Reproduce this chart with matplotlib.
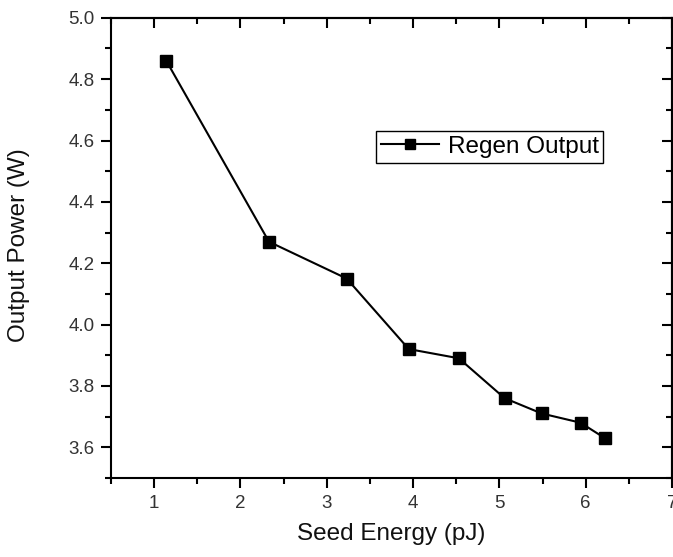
import matplotlib
matplotlib.use("Agg")
import matplotlib.pyplot as plt
from matplotlib.ticker import MultipleLocator

# datos
seed_energy = [1.14, 2.33, 3.23, 3.95, 4.53, 5.06, 5.49, 5.94, 6.22]   # pJ
output_power = [4.86, 4.27, 4.15, 3.92, 3.89, 3.76, 3.71, 3.68, 3.63]  # W
y_ticks = [3.6, 3.8, 4.0, 4.2, 4.4, 4.6, 4.8, 5.0]

plt.rcParams['font.family'] = ['Liberation Sans', 'DejaVu Sans']

fig = plt.figure(figsize=(6.73, 5.57), dpi=100)
ax = fig.add_axes([0.165, 0.142, 0.8335, 0.826])

ax.plot(seed_energy, output_power, color='black', lw=1.5,
        marker='s', ms=8, label='Regen Output')

ax.set_xlim(0.5, 7)
ax.set_ylim(3.5, 5.0)
ax.xaxis.set_major_locator(MultipleLocator(1))
ax.xaxis.set_minor_locator(MultipleLocator(0.5))
ax.set_yticks(y_ticks)
ax.yaxis.set_minor_locator(MultipleLocator(0.1))
ax.yaxis.set_major_formatter(plt.FormatStrFormatter('%.1f'))

for s in ax.spines.values():
    s.set_linewidth(1.5)

ax.tick_params(which='both', direction='out', width=1.5,
               labelsize=13.5, labelcolor='#333333', pad=5)
ax.tick_params(which='major', length=7)
ax.tick_params(which='minor', length=4)

# ticks interiores arriba y a la derecha
ax_top = ax.secondary_xaxis('top')
ax_top.xaxis.set_major_locator(MultipleLocator(1))
ax_top.xaxis.set_minor_locator(MultipleLocator(0.5))
ax_top.tick_params(which='both', direction='in', width=1.5, labeltop=False)
ax_top.tick_params(which='major', length=7)
ax_top.tick_params(which='minor', length=4)
ax_right = ax.secondary_yaxis('right')
ax_right.set_yticks(y_ticks)
ax_right.yaxis.set_minor_locator(MultipleLocator(0.1))
ax_right.tick_params(which='both', direction='in', width=1.5, labelright=False)
ax_right.tick_params(which='major', length=7)
ax_right.tick_params(which='minor', length=4)
for sec in (ax_top, ax_right):
    for s in sec.spines.values():
        s.set_linewidth(1.5)

ax.set_xlabel('Seed Energy (pJ)', fontsize=17.5, color='#111111')
ax.set_ylabel('Output Power (W)', fontsize=17.5, color='#111111')
ax.xaxis.set_label_coords(0.5, -0.098)
ax.yaxis.set_label_coords(-0.145, 0.505)

leg = ax.legend(loc='upper left', bbox_to_anchor=(0.472, 0.754), borderaxespad=0,
                fontsize=17.5, fancybox=False, framealpha=1, edgecolor='black',
                handlelength=2.4, handletextpad=0.35, borderpad=0.2, markerscale=0.9)
leg.get_frame().set_linewidth(1.0)

fig.savefig('out.png', dpi=100)
